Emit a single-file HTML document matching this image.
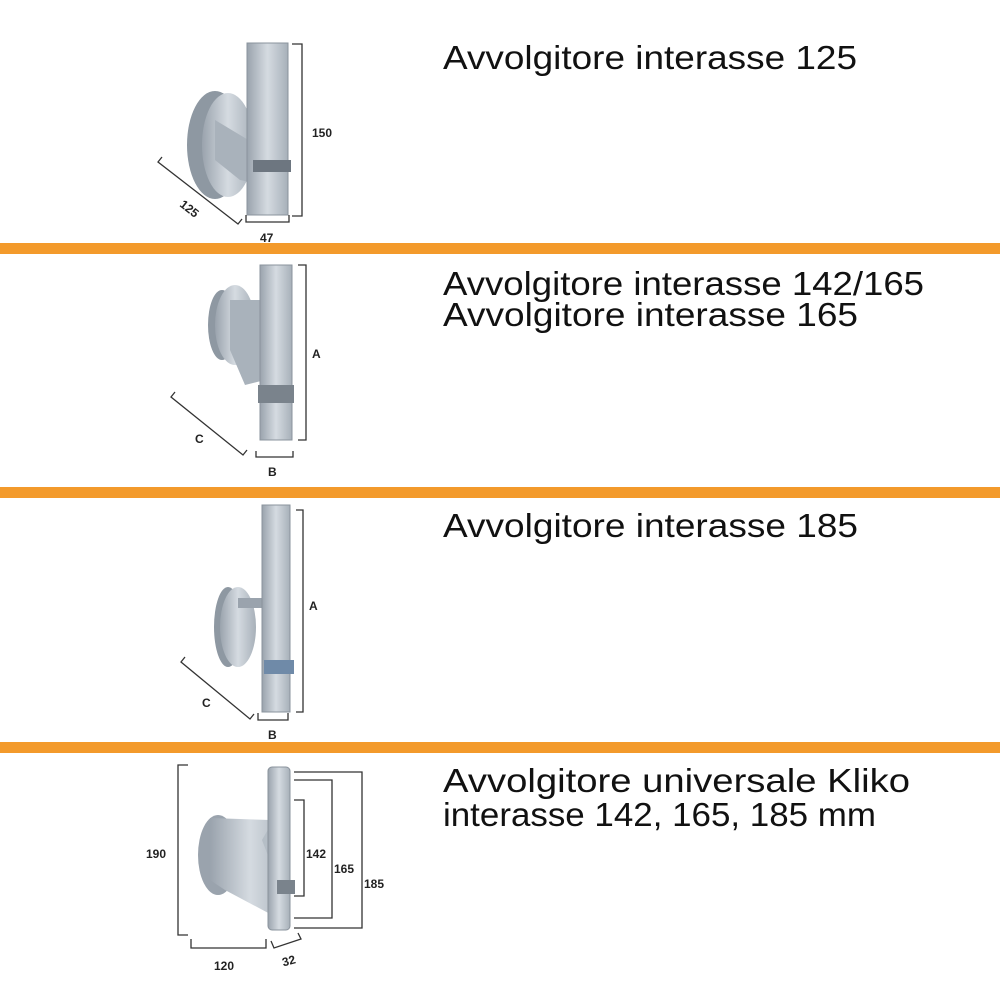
<!DOCTYPE html>
<html><head><meta charset="utf-8"><style>
html,body{margin:0;padding:0;background:#fff;}
svg{display:block;}
.t{font-family:"Liberation Sans",sans-serif;font-size:33px;fill:#111;}
.d{font-family:"Liberation Sans",sans-serif;font-size:12px;font-weight:bold;fill:#222;}
.l{fill:none;stroke:#333;stroke-width:1.3;}
</style></head><body>
<svg width="1000" height="1000" viewBox="0 0 1000 1000" xmlns="http://www.w3.org/2000/svg">
<defs>
<linearGradient id="m" x1="0" x2="1" y1="0" y2="0">
<stop offset="0" stop-color="#9aa3ad"/><stop offset="0.5" stop-color="#d5dbe1"/><stop offset="1" stop-color="#a7b0b9"/>
</linearGradient>
</defs>
<rect x="0" y="243" width="1000" height="11" fill="#f39a2b"/>
<rect x="0" y="487" width="1000" height="11" fill="#f39a2b"/>
<rect x="0" y="742" width="1000" height="11" fill="#f39a2b"/>

<text class="t" x="443" y="69" textLength="414" lengthAdjust="spacingAndGlyphs">Avvolgitore interasse 125</text>
<text class="t" x="443" y="295" textLength="481" lengthAdjust="spacingAndGlyphs">Avvolgitore interasse 142/165</text>
<text class="t" x="443" y="326" textLength="415" lengthAdjust="spacingAndGlyphs">Avvolgitore interasse 165</text>
<text class="t" x="443" y="537" textLength="415" lengthAdjust="spacingAndGlyphs">Avvolgitore interasse 185</text>
<text class="t" x="443" y="792" textLength="467" lengthAdjust="spacingAndGlyphs">Avvolgitore universale Kliko</text>
<text class="t" x="443" y="826" textLength="433" lengthAdjust="spacingAndGlyphs">interasse 142, 165, 185 mm</text>

<!-- section 1 -->
<ellipse cx="215" cy="145" rx="28" ry="54" fill="#8e98a2"/>
<ellipse cx="228" cy="145" rx="26" ry="52" fill="url(#m)"/>
<polygon points="215,120 265,150 265,185 240,180 215,160" fill="#a9b2bb"/>
<rect x="247" y="43" width="41" height="172" fill="url(#m)" stroke="#8a939c" stroke-width="1"/>
<rect x="253" y="160" width="38" height="12" fill="#6d7680"/>
<polyline class="l" points="292,44 302,44 302,216 292,216"/>
<text class="d" x="312" y="137">150</text>
<polyline class="l" points="162,157 158,162 238,224 242,219"/>
<text class="d" x="180" y="213" transform="rotate(38 190 208)">125</text>
<polyline class="l" points="246,215 246,222 289,222 289,215"/>
<text class="d" x="260" y="242">47</text>

<!-- section 2 -->
<ellipse cx="222" cy="325" rx="14" ry="35" fill="#8e98a2"/>
<ellipse cx="235" cy="325" rx="20" ry="40" fill="url(#m)"/>
<polygon points="230,300 265,300 265,380 245,385 230,350" fill="#a9b2bb"/>
<rect x="260" y="265" width="32" height="175" fill="url(#m)" stroke="#8a939c" stroke-width="1"/>
<rect x="258" y="385" width="36" height="18" fill="#7a838c"/>
<polyline class="l" points="298,265 306,265 306,440 298,440"/>
<text class="d" x="312" y="358">A</text>
<polyline class="l" points="175,392 171,397 243,455 247,450"/>
<text class="d" x="195" y="443">C</text>
<polyline class="l" points="256,451 256,457 293,457 293,451"/>
<text class="d" x="268" y="476">B</text>

<!-- section 3 -->
<ellipse cx="228" cy="627" rx="14" ry="40" fill="#8e98a2"/>
<ellipse cx="238" cy="627" rx="18" ry="40" fill="url(#m)"/>
<rect x="238" y="598" width="28" height="10" fill="#9aa3ad"/>
<rect x="262" y="505" width="28" height="207" fill="url(#m)" stroke="#8a939c" stroke-width="1"/>
<rect x="264" y="660" width="30" height="14" fill="#6f8aa8"/>
<polyline class="l" points="296,510 303,510 303,712 296,712"/>
<text class="d" x="309" y="610">A</text>
<polyline class="l" points="185,657 181,662 250,719 254,714"/>
<text class="d" x="202" y="707">C</text>
<polyline class="l" points="258,713 258,720 288,720 288,713"/>
<text class="d" x="268" y="739">B</text>

<!-- section 4 -->
<ellipse cx="218" cy="855" rx="20" ry="40" fill="#9aa3ad"/>
<polygon points="210,818 270,820 290,860 272,915 225,890 210,880" fill="url(#m)"/>
<polygon points="262,840 285,800 285,900" fill="#b5bec6"/>
<rect x="268" y="767" width="22" height="163" rx="4" fill="url(#m)" stroke="#8a939c" stroke-width="1"/>
<rect x="277" y="880" width="18" height="14" fill="#7a838c"/>
<polyline class="l" points="188,765 178,765 178,935 188,935"/>
<text class="d" x="146" y="858">190</text>
<polyline class="l" points="294,800 304,800 304,896 294,896"/>
<text class="d" x="306" y="858">142</text>
<polyline class="l" points="294,780 332,780 332,918 294,918"/>
<text class="d" x="334" y="873">165</text>
<polyline class="l" points="294,772 362,772 362,928 294,928"/>
<text class="d" x="364" y="888">185</text>
<polyline class="l" points="191,939 191,948 266,948 266,939"/>
<text class="d" x="214" y="970">120</text>
<polyline class="l" points="271,941 274,948 301,939 298,933"/>
<text class="d" x="282" y="964" transform="rotate(-15 292 960)">32</text>
</svg>
</body></html>
